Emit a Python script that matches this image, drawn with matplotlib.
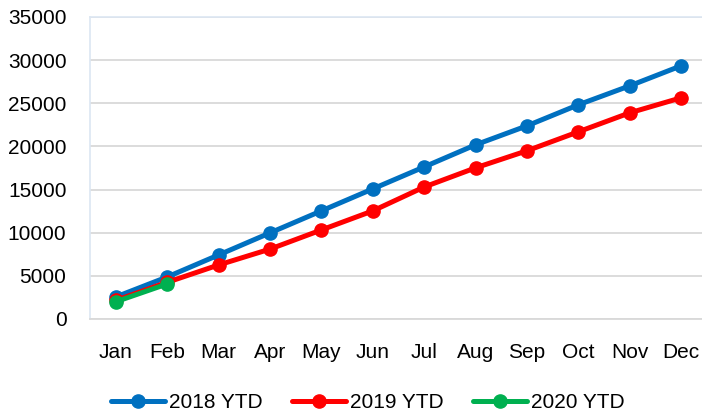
import numpy as np
import matplotlib.pyplot as plt

months = ['Jan', 'Feb', 'Mar', 'Apr', 'May', 'Jun', 'Jul', 'Aug', 'Sep', 'Oct', 'Nov', 'Dec']
ytd_2018 = [2550, 4870, 7420, 9980, 12530, 15080, 17630, 20190, 22390, 24830, 27030, 29350]
ytd_2019 = [2150, 4250, 6260, 8100, 10320, 12530, 15300, 17520, 19500, 21700, 23900, 25640]
ytd_2020 = [2000, 4060]
yticks = np.arange(0, 35001, 5000)

plt.rcParams['font.family'] = ['Liberation Sans', 'DejaVu Sans']

fig = plt.figure(figsize=(7.02, 4.17), dpi=100)
ax = fig.add_axes([90 / 702, 98 / 417, 617 / 702, 302 / 417])

x = np.arange(len(months))
series = [
    (ytd_2018, '#0070C0', '2018 YTD'),
    (ytd_2019, '#FF0000', '2019 YTD'),
    (ytd_2020, '#00B050', '2020 YTD'),
]
for vals, color, label in series:
    ax.plot(x[:len(vals)], vals, '-o', color=color, lw=3.6, ms=9.5,
            label=label, solid_capstyle='round')

ax.set_xlim(-0.5, 11.5)
ax.set_ylim(0, 35000)
ax.set_yticks(yticks)
ax.set_xticks(x)
ax.set_xticklabels(months)
ax.tick_params(length=0, labelsize=15, colors='black')
ax.tick_params(axis='y', pad=17)
ax.tick_params(axis='x', pad=17)
ax.grid(axis='y', color='#D9D9D9', lw=1.3)
ax.set_axisbelow(True)

for side in ['left', 'top']:
    ax.spines[side].set_color('#DCE6F2')
    ax.spines[side].set_linewidth(1.2)
ax.spines['bottom'].set_color('#D9D9D9')
ax.spines['bottom'].set_linewidth(1.3)
ax.spines['right'].set_visible(False)

fig.legend(loc='center', bbox_to_anchor=(368 / 702, 1 - 403 / 417), ncol=3,
           frameon=False, fontsize=15, handlelength=2.6, handletextpad=0.2,
           columnspacing=1.4)

fig.savefig('out.png', dpi=100)
